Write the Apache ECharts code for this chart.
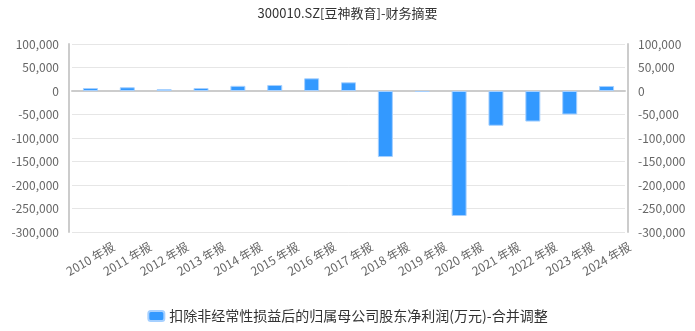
<!DOCTYPE html>
<html><head><meta charset="utf-8">
<script src="https://cdn.jsdelivr.net/npm/echarts@6/dist/echarts.min.js"></script>
<style>html,body{margin:0;padding:0;background:#fff}#c{width:695px;height:331px}</style>
</head><body><div id="c"></div>
<script>
const categories = ['2010 年报','2011 年报','2012 年报','2013 年报','2014 年报','2015 年报','2016 年报','2017 年报','2018 年报','2019 年报','2020 年报','2021 年报','2022 年报','2023 年报','2024 年报'];
const values = [6400, 8000, 4000, 6400, 11000, 12800, 27000, 18500, -140500, -2000, -266000, -74000, -65000, -50000, 10700];
const seriesName = '扣除非经常性损益后的归属母公司股东净利润(万元)-合并调整';
const titleText = '300010.SZ[豆神教育]-财务摘要';
const font = '"Noto Sans CJK SC", "Noto Sans", sans-serif';
const fmt = v => v.toLocaleString('en-US');
const yAxisCommon = {
  type: 'value', min: -300000, max: 100000, interval: 50000, offset: 3,
  axisLine: {show: true, lineStyle: {color: '#ccc', width: 2}},
  axisTick: {show: false},
  splitLine: {lineStyle: {color: '#e6e6e6'}},
  axisLabel: {color: '#666', fontSize: 12, fontFamily: font, formatter: fmt, margin: 10}
};
const chart = echarts.init(document.getElementById('c'));
chart.setOption({
  animation: false,
  title: {text: titleText, left: 'center', top: 2, textStyle: {fontSize: 13, fontWeight: 'normal', color: '#333', fontFamily: font}},
  grid: {left: 72, right: 70, top: 44, bottom: 99},
  legend: {bottom: 3, itemWidth: 16, itemHeight: 10, icon: 'roundRect', textStyle: {color: '#333', fontSize: 14, fontFamily: font}, data: [seriesName]},
  xAxis: {type: 'category', data: categories,
    axisLine: {lineStyle: {color: '#ccc', width: 2}}, axisTick: {show: false},
    axisLabel: {rotate: 30, interval: 0, align: 'center', verticalAlign: 'middle', margin: 27, color: '#666', fontSize: 12, fontFamily: font}},
  yAxis: [Object.assign({}, yAxisCommon), Object.assign({}, yAxisCommon, {position: 'right'})],
  series: [{name: seriesName, type: 'bar', data: values, barWidth: 15,
    itemStyle: {color: '#3399ff', borderColor: '#a6d0ff', borderWidth: 1}}]
});
</script></body></html>
